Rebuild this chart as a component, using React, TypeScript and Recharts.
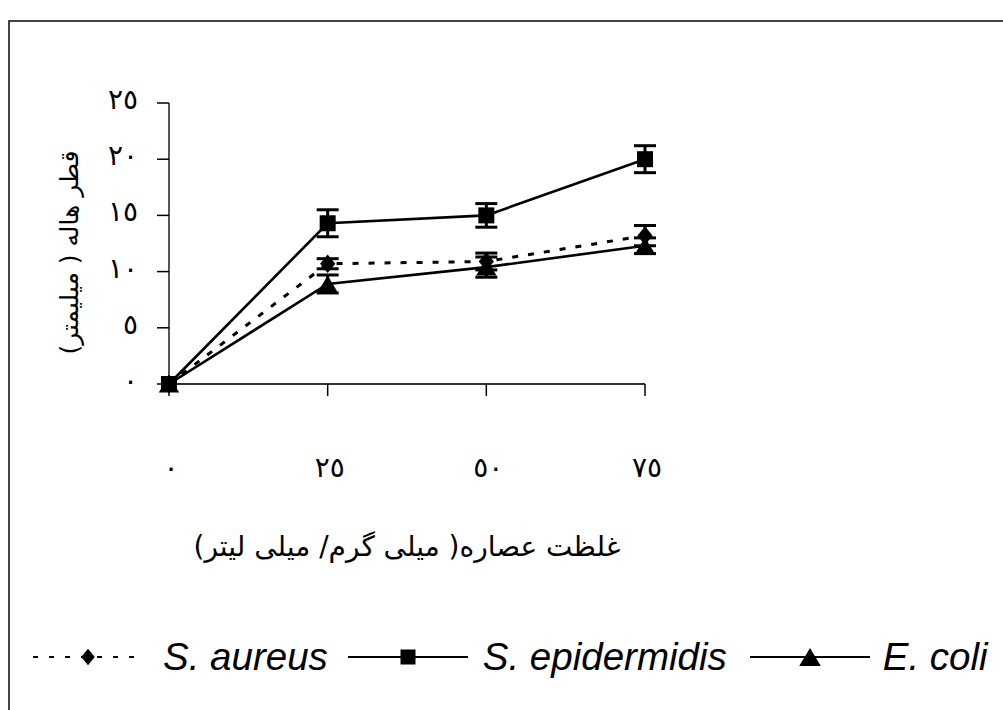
import React from 'react';
import { LineChart, Line, XAxis, YAxis, ErrorBar, Label } from 'recharts';

const concentrations = [0, 25, 50, 75];
const xTickLabels = ['٠', '٢٥', '٥٠', '٧٥'];
const yTicks = [0, 5, 10, 15, 20, 25];
const yTickLabels = ['٠', '٥', '١٠', '١٥', '٢٠', '٢٥'];

const aureusValues = [0, 10.7, 10.9, 13.2];
const aureusErrors = [0, 0.45, 0.75, 0.9];
const epidermidisValues = [0, 14.3, 15.0, 20.0];
const epidermidisErrors = [0, 1.2, 1.05, 1.2];
const coliValues = [0, 8.9, 10.4, 12.3];
const coliErrors = [0, 0.8, 0.9, 0.7];

const seriesNames = ['S. aureus', 'S. epidermidis', 'E. coli'];
const seriesMarkers = ['diamond', 'square', 'triangle'];
const seriesDashes = ['5 11', undefined, undefined];

const xAxisTitle = 'غلظت عصاره( میلی گرم/ میلی لیتر)';
const yAxisTitle = 'قطر هاله ( میلیمتر)';

const chartData = concentrations.map((c, i) => ({
  conc: c,
  aureus: aureusValues[i],
  aureusErr: aureusErrors[i],
  epi: epidermidisValues[i],
  epiErr: epidermidisErrors[i],
  coli: coliValues[i],
  coliErr: coliErrors[i],
}));

const ARABIC_FONT = "'DejaVu Sans', sans-serif";

function Marker({ type, cx, cy, s }: { type: string; cx: number; cy: number; s: number }) {
  if (type === 'diamond') {
    const h = s * 0.55;
    const w = s * 0.45;
    return <polygon points={`${cx},${cy - h} ${cx + w},${cy} ${cx},${cy + h} ${cx - w},${cy}`} fill="#000" />;
  }
  if (type === 'square') {
    const h = s * 0.5;
    return <rect x={cx - h} y={cy - h} width={s} height={s} fill="#000" />;
  }
  const w = s * 0.6;
  const h = s * 0.5;
  return <polygon points={`${cx},${cy - h} ${cx + w},${cy + h} ${cx - w},${cy + h}`} fill="#000" />;
}

const makeDot = (type: string, s: number) => (p: any) => {
  if (p.cx == null || p.cy == null) return <g key={`d-${type}-${p.index}`} />;
  return (
    <g key={`d-${type}-${p.index}`}>
      <Marker type={type} cx={p.cx} cy={p.cy} s={s} />
    </g>
  );
};

const XTick = (props: any) => {
  const { x, y, payload } = props;
  const i = concentrations.indexOf(payload.value);
  return (
    <text x={x + 2} y={y + 79} textAnchor="middle" fontFamily={ARABIC_FONT} fontSize={28} fill="#000">
      {xTickLabels[i]}
    </text>
  );
};

const YTick = (props: any) => {
  const { x, y, payload } = props;
  const i = yTicks.indexOf(payload.value);
  return (
    <text x={x - 17} y={y + 6} textAnchor="end" fontFamily={ARABIC_FONT} fontSize={28} fill="#000">
      {yTickLabels[i]}
    </text>
  );
};

const XTitle = (props: any) => {
  const vb = props.viewBox;
  return (
    <text
      x={vb.x + vb.width / 2}
      y={vb.y + 172}
      textAnchor="middle"
      direction="rtl"
      fontFamily={ARABIC_FONT}
      fontSize={28}
      fill="#000"
    >
      {xAxisTitle}
    </text>
  );
};

const YTitle = (props: any) => {
  const vb = props.viewBox;
  const cx = vb.x + 78;
  const cy = vb.y + vb.height / 2 + 9;
  return (
    <text
      x={cx}
      y={cy}
      textAnchor="middle"
      direction="rtl"
      transform={`rotate(-90, ${cx}, ${cy})`}
      fontFamily={ARABIC_FONT}
      fontSize={25}
      fill="#000"
    >
      {yAxisTitle}
    </text>
  );
};

const legendLineLengths = [110, 120, 120];
const legendTextGapBefore = [20, 15, 13];
const legendTextGapAfter = [20, 23, 0];

function LegendRow() {
  return (
    <div
      style={{
        position: 'absolute',
        left: 33,
        top: 638,
        display: 'flex',
        alignItems: 'center',
        height: 38,
      }}
    >
      {seriesNames.map((name, i) => (
        <div key={name} style={{ display: 'flex', alignItems: 'center' }}>
          <svg width={legendLineLengths[i]} height={30} style={{ display: 'block' }}>
            <line
              x1={0}
              y1={15}
              x2={legendLineLengths[i]}
              y2={15}
              stroke="#000"
              strokeWidth={2.2}
              strokeDasharray={seriesDashes[i]}
            />
            <Marker
              type={seriesMarkers[i]}
              cx={legendLineLengths[i] / 2}
              cy={15}
              s={seriesMarkers[i] === 'triangle' ? 18 : 15}
            />
          </svg>
          <span
            style={{
              marginLeft: legendTextGapBefore[i],
              marginRight: legendTextGapAfter[i],
              fontFamily: "'Liberation Sans', Arial, sans-serif",
              fontStyle: 'italic',
              fontSize: 38.5,
              lineHeight: 1,
              color: '#000',
              whiteSpace: 'nowrap',
            }}
          >
            {name}
          </span>
        </div>
      ))}
    </div>
  );
}

export default function App() {
  return (
    <div style={{ position: 'relative', width: 1003, height: 710, background: '#fff', overflow: 'hidden' }}>
      <style>{'body{margin:0;overflow:hidden;}'}</style>
      <div
        style={{
          position: 'absolute',
          left: 8,
          top: 20,
          width: 995,
          height: 690,
          borderLeft: '2px solid #444',
          borderTop: '2px solid #444',
          boxSizing: 'border-box',
        }}
      />
      <div style={{ position: 'absolute', left: 0, top: 0 }}>
        <LineChart width={1003} height={710} data={chartData} margin={{ top: 103, right: 358, bottom: 0, left: 0 }}>
          <XAxis
            type="number"
            dataKey="conc"
            domain={[0, 75]}
            ticks={concentrations}
            interval={0}
            height={326}
            tickSize={12}
            axisLine={{ stroke: '#333', strokeWidth: 2 }}
            tickLine={{ stroke: '#000', strokeWidth: 1.5 }}
            tick={XTick}
          >
            <Label content={XTitle} />
          </XAxis>
          <YAxis
            type="number"
            domain={[0, 25]}
            ticks={yTicks}
            interval={0}
            width={169}
            tickSize={12}
            axisLine={{ stroke: '#555', strokeWidth: 2 }}
            tickLine={{ stroke: '#000', strokeWidth: 1.5 }}
            tick={YTick}
          >
            <Label content={YTitle} />
          </YAxis>
          <Line
            type="linear"
            dataKey="aureus"
            stroke="#000"
            strokeWidth={3}
            strokeDasharray="6 10"
            dot={makeDot('diamond', 17)}
            activeDot={false}
            isAnimationActive={false}
          >
            <ErrorBar dataKey="aureusErr" width={11} stroke="#000" strokeWidth={3} isAnimationActive={false} />
          </Line>
          <Line
            type="linear"
            dataKey="epi"
            stroke="#000"
            strokeWidth={2.6}
            dot={makeDot('square', 16)}
            activeDot={false}
            isAnimationActive={false}
          >
            <ErrorBar dataKey="epiErr" width={11} stroke="#000" strokeWidth={3} isAnimationActive={false} />
          </Line>
          <Line
            type="linear"
            dataKey="coli"
            stroke="#000"
            strokeWidth={2.6}
            dot={makeDot('triangle', 17)}
            activeDot={false}
            isAnimationActive={false}
          >
            <ErrorBar dataKey="coliErr" width={11} stroke="#000" strokeWidth={3} isAnimationActive={false} />
          </Line>
        </LineChart>
      </div>
      <LegendRow />
    </div>
  );
}
